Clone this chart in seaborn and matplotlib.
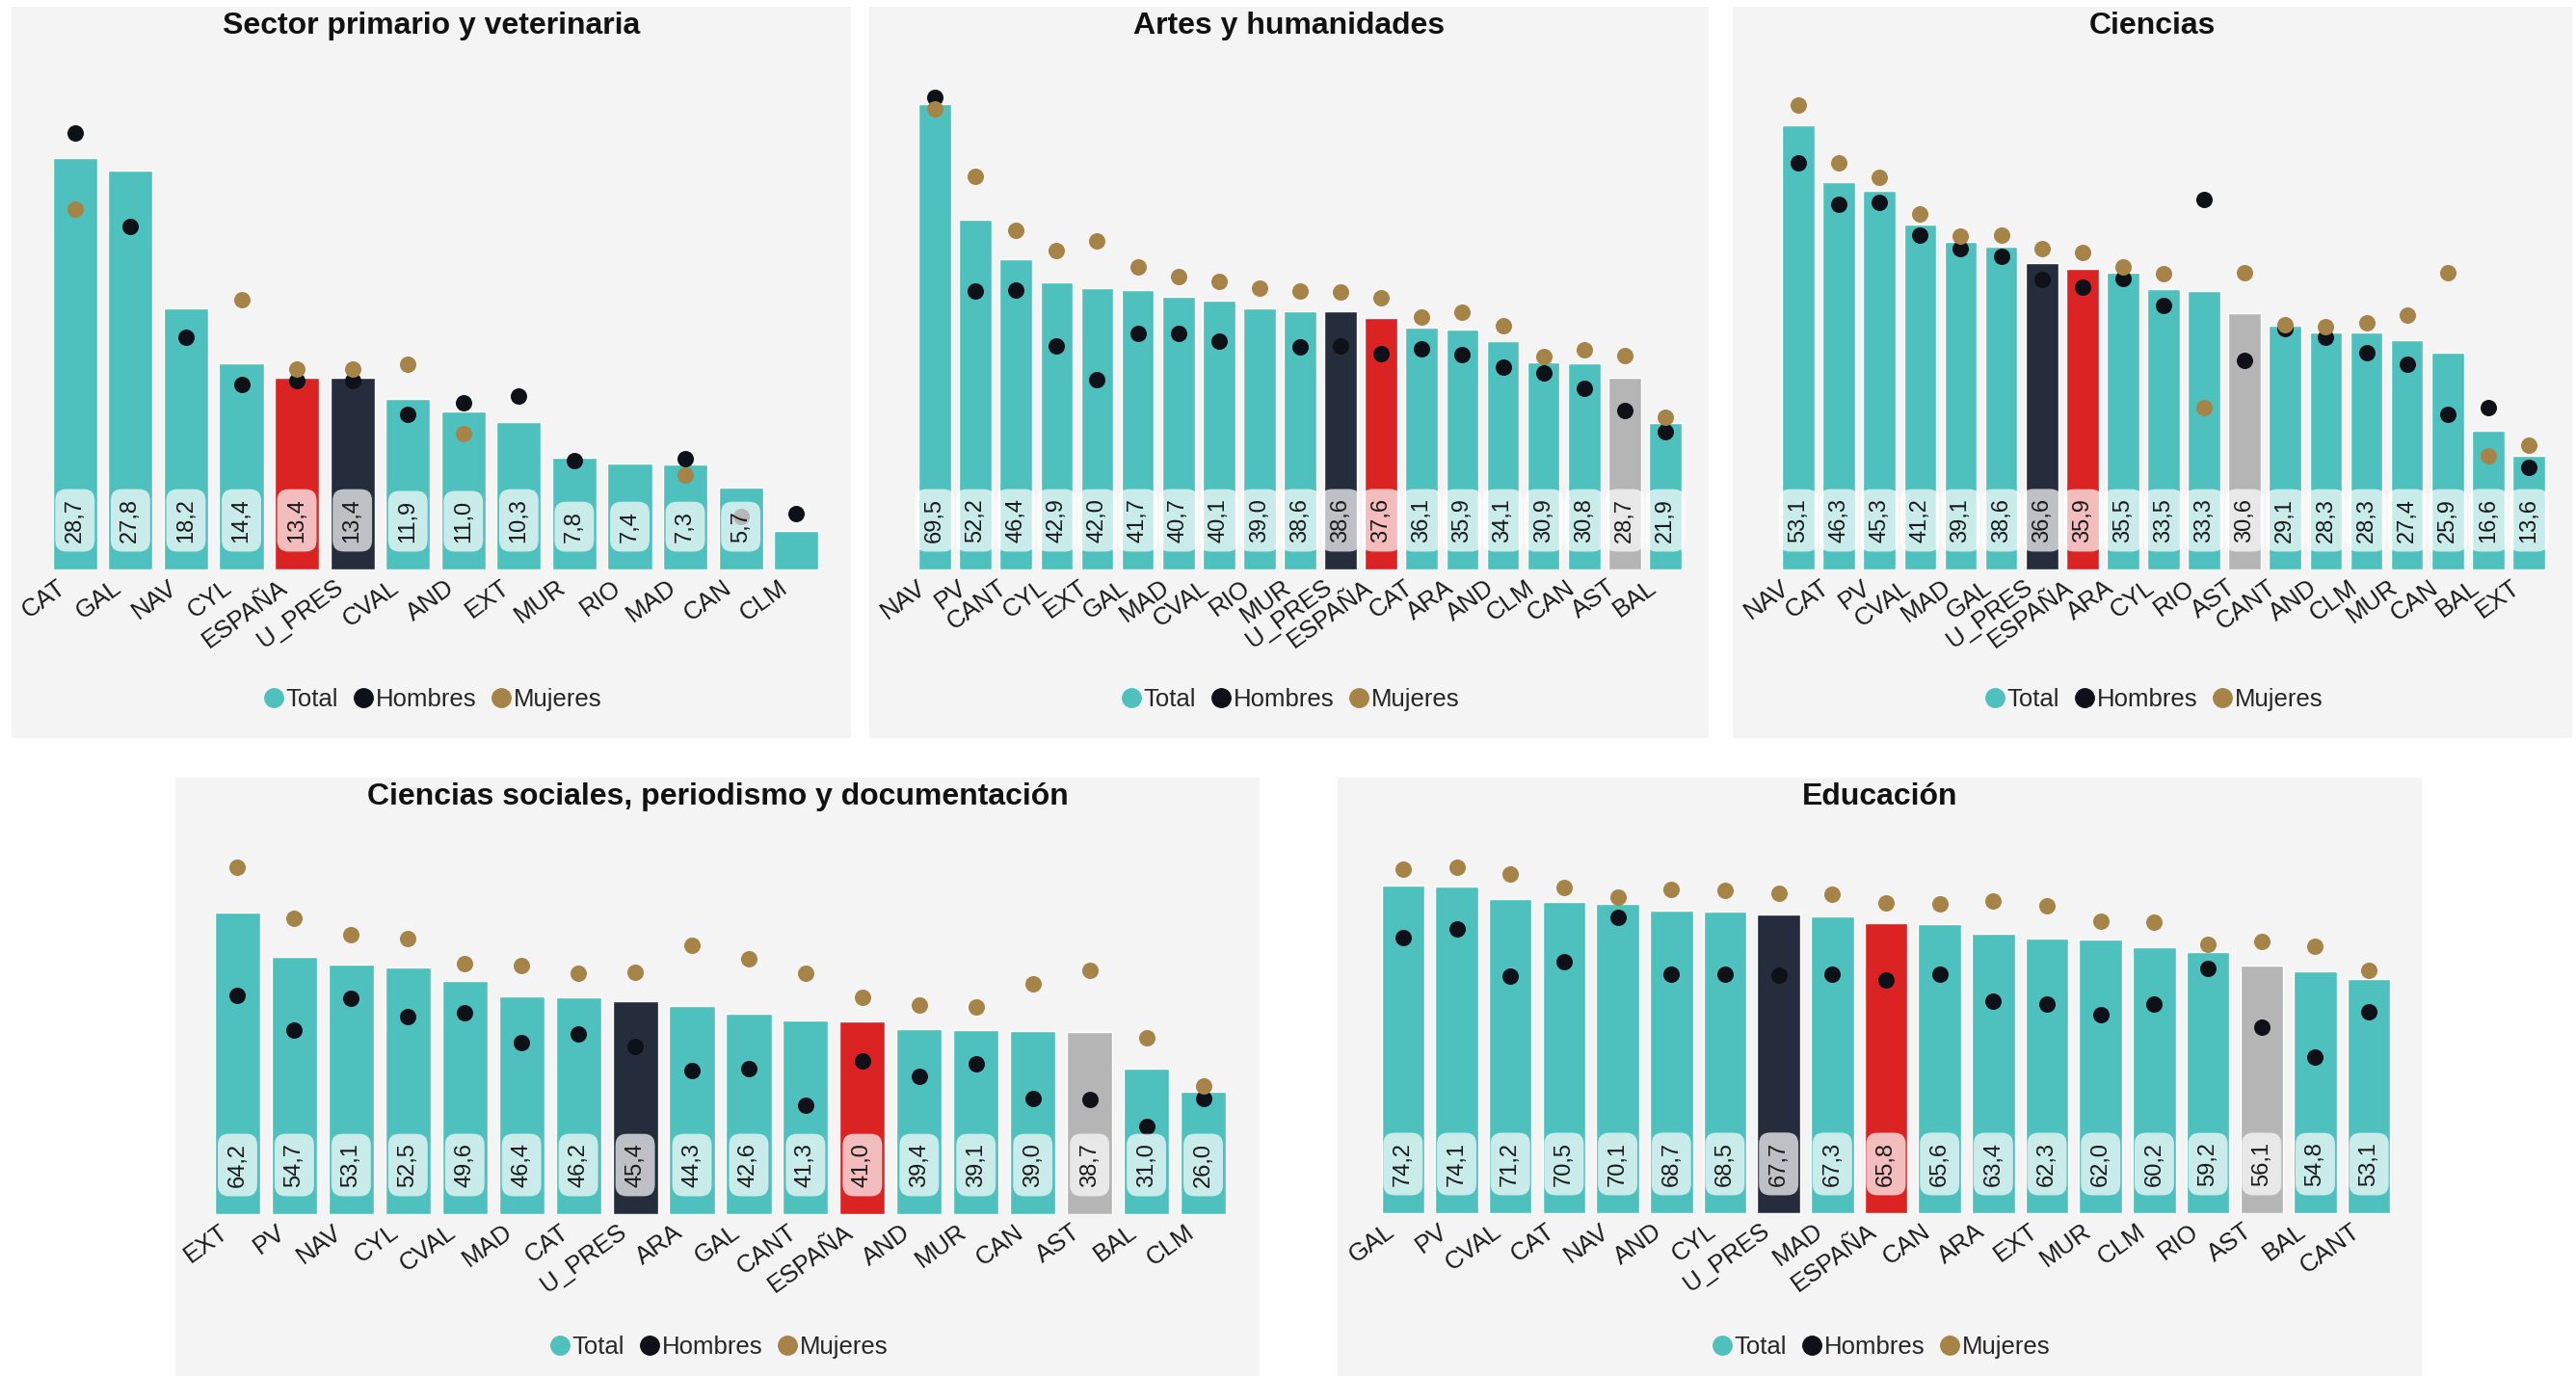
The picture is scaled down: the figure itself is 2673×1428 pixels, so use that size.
import numpy as np
import pandas as pd
import matplotlib
matplotlib.use("Agg")
import matplotlib.pyplot as plt
from matplotlib.lines import Line2D
from matplotlib.patches import Rectangle
import seaborn as sns

nan = np.nan

# ---------------- data ----------------
titles = ["Sector primario y veterinaria", "Artes y humanidades", "Ciencias",
          "Ciencias sociales, periodismo y documentación", "Educación"]

cats_1 = ["CAT", "GAL", "NAV", "CYL", "ESPAÑA", "U_PRES", "CVAL", "AND", "EXT", "MUR", "RIO", "MAD", "CAN", "CLM"]
total_1 = [28.7, 27.8, 18.2, 14.4, 13.4, 13.4, 11.9, 11.0, 10.3, 7.8, 7.4, 7.3, 5.7, 2.7]
hombres_1 = [30.4, 23.9, 16.2, 12.9, 13.2, 13.2, 10.8, 11.6, 12.1, 7.6, nan, 7.7, 3.7, 3.9]
mujeres_1 = [25.1, nan, nan, 18.8, 14.0, 14.0, 14.3, 9.5, nan, nan, nan, 6.6, nan, nan]

cats_2 = ["NAV", "PV", "CANT", "CYL", "EXT", "GAL", "MAD", "CVAL", "RIO", "MUR", "U_PRES", "ESPAÑA", "CAT", "ARA", "AND", "CLM", "CAN", "AST", "BAL"]
total_2 = [69.5, 52.2, 46.4, 42.9, 42.0, 41.7, 40.7, 40.1, 39.0, 38.6, 38.6, 37.6, 36.1, 35.9, 34.1, 30.9, 30.8, 28.7, 21.9]
hombres_2 = [70.6, 41.6, 41.8, 33.4, 28.4, 35.2, 35.3, 34.1, nan, 33.3, 33.4, 32.3, 33.0, 32.1, 30.3, 29.4, 27.0, 23.8, 20.6]
mujeres_2 = [68.8, 58.7, 50.7, 47.7, 49.1, 45.2, 43.8, 43.0, 42.0, 41.6, 41.4, 40.6, 37.7, 38.4, 36.4, 31.8, 32.8, 32.0, 22.8]

cats_3 = ["NAV", "CAT", "PV", "CVAL", "MAD", "GAL", "U_PRES", "ESPAÑA", "ARA", "CYL", "RIO", "AST", "CANT", "AND", "CLM", "MUR", "CAN", "BAL", "EXT"]
total_3 = [53.1, 46.3, 45.3, 41.2, 39.1, 38.6, 36.6, 35.9, 35.5, 33.5, 33.3, 30.6, 29.1, 28.3, 28.3, 27.4, 25.9, 16.6, 13.6]
hombres_3 = [48.6, 43.7, 43.9, 40.0, 38.3, 37.4, 34.7, 33.8, 34.8, 31.5, 44.2, 25.0, 28.8, 27.7, 25.9, 24.5, 18.5, 19.3, 12.2]
mujeres_3 = [55.5, 48.6, 46.9, 42.5, 39.8, 40.0, 38.3, 37.9, 36.2, 35.4, 19.3, 35.5, 29.2, 29.0, 29.5, 30.4, 35.5, 13.6, 14.9]

cats_4 = ["EXT", "PV", "NAV", "CYL", "CVAL", "MAD", "CAT", "U_PRES", "ARA", "GAL", "CANT", "ESPAÑA", "AND", "MUR", "CAN", "AST", "BAL", "CLM"]
total_4 = [64.2, 54.7, 53.1, 52.5, 49.6, 46.4, 46.2, 45.4, 44.3, 42.6, 41.3, 41.0, 39.4, 39.1, 39.0, 38.7, 31.0, 26.0]
hombres_4 = [46.5, 39.2, 46.0, 42.1, 42.8, 36.5, 38.3, 35.7, 30.5, 30.9, 23.1, 32.6, 29.3, 32.0, 24.6, 24.5, 18.6, 24.7]
mujeres_4 = [73.8, 63.0, 59.4, 58.6, 53.4, 52.9, 51.3, 51.5, 57.2, 54.3, 51.3, 46.1, 44.6, 44.2, 49.0, 51.8, 37.6, 27.2]

cats_5 = ["GAL", "PV", "CVAL", "CAT", "NAV", "AND", "CYL", "U_PRES", "MAD", "ESPAÑA", "CAN", "ARA", "EXT", "MUR", "CLM", "RIO", "AST", "BAL", "CANT"]
total_5 = [74.2, 74.1, 71.2, 70.5, 70.1, 68.7, 68.5, 67.7, 67.3, 65.8, 65.6, 63.4, 62.3, 62.0, 60.2, 59.2, 56.1, 54.8, 53.1]
hombres_5 = [62.4, 64.5, 53.8, 57.0, 67.1, 54.2, 54.1, 54.0, 54.1, 52.8, 54.2, 48.0, 47.5, 45.0, 47.4, 55.5, 42.1, 35.3, 45.7]
mujeres_5 = [77.9, 78.5, 77.0, 73.9, 71.6, 73.5, 73.2, 72.5, 72.3, 70.3, 70.2, 70.9, 69.8, 66.3, 65.9, 60.9, 61.7, 60.5, 55.1]

ymax_list = [35, 75, 60, 80, 85]
legend_labels = ["Total", "Hombres", "Mujeres"]

# ---------------- style ----------------
C_TEAL = "#4ec1be"
C_RED = "#dc2324"
C_NAVY = "#252d3c"
C_GREY = "#b5b5b5"
C_MEN = "#0e1118"
C_WOMEN = "#a68347"
PANEL_BG = "#f4f4f4"
special = {"ESPAÑA": C_RED, "U_PRES": C_NAVY, "AST": C_GREY}

sns.set_theme(style="white")
plt.rcParams["font.family"] = ["Liberation Sans", "DejaVu Sans"]

W, H = 2673, 1428
fig = plt.figure(figsize=(W / 100, H / 100), dpi=100)
fig.patch.set_facecolor("white")

panels = [  # panel box (x0, x1, y0, y1), axes box (x0, x1, ytop, ybottom)
    ((12, 883, 7, 766), (49, 855, 70, 591)),
    ((902, 1773, 7, 766), (949, 1749, 70, 591)),
    ((1798, 2669, 7, 766), (1845, 2645, 70, 591)),
    ((182, 1307, 807, 1428), (217, 1278, 870, 1260)),
    ((1388, 2513, 807, 1428), (1428, 2486, 870, 1259)),
]
datasets = [
    (cats_1, total_1, hombres_1, mujeres_1),
    (cats_2, total_2, hombres_2, mujeres_2),
    (cats_3, total_3, hombres_3, mujeres_3),
    (cats_4, total_4, hombres_4, mujeres_4),
    (cats_5, total_5, hombres_5, mujeres_5),
]

for k, ((pb, ab), (cats, tot, hom, muj)) in enumerate(zip(panels, datasets)):
    px0, px1, py0, py1 = pb
    fig.patches.append(Rectangle((px0 / W, 1 - py1 / H), (px1 - px0) / W, (py1 - py0) / H,
                                 transform=fig.transFigure, facecolor=PANEL_BG,
                                 edgecolor="none", zorder=-10))
    ax0, ax1, at, abot = ab
    ax = fig.add_axes([ax0 / W, 1 - abot / H, (ax1 - ax0) / W, (abot - at) / H])
    ax.set_zorder(1)
    ax.patch.set_alpha(0)
    n = len(cats)
    df = pd.DataFrame({"cat": cats, "total": tot, "hombres": hom, "mujeres": muj})
    pal = {c: special.get(c, C_TEAL) for c in cats}
    sns.barplot(data=df, x="cat", y="total", hue="cat", palette=pal, order=cats,
                hue_order=cats, legend=False, width=0.8, saturation=1, ax=ax, zorder=2)
    xs = np.arange(n)
    sns.scatterplot(x=xs, y=df["hombres"], color=C_MEN, s=150, linewidth=0, ax=ax, zorder=3)
    sns.scatterplot(x=xs, y=df["mujeres"], color=C_WOMEN, s=150, linewidth=0, ax=ax, zorder=4)
    ymax = ymax_list[k]
    ax.set_ylim(0, ymax)
    ax.set_xlim(-0.5, n - 0.5)
    for i, v in enumerate(tot):
        if v / ymax < 0.12:
            continue
        ax.annotate(f"{v:.1f}".replace(".", ","), xy=(i, 0), xytext=(0, 28),
                    textcoords="offset pixels", rotation=90, ha="center", va="bottom",
                    fontsize=17, color="#1a1a1a", zorder=6,
                    bbox=dict(boxstyle="round,pad=0.4,rounding_size=0.5",
                              fc=(1, 1, 1, 0.7), ec="none"))
    # category labels (rotated, anchored at their right end just left of the bar centre)
    ax.set_xticks(xs)
    ax.set_xticklabels([])
    ax.tick_params(axis="x", length=0)
    for i, c in enumerate(cats):
        ax.annotate(c, xy=(i, 0), xycoords=ax.get_xaxis_transform(), xytext=(-12, -16),
                    textcoords="offset pixels", rotation=36, rotation_mode="anchor",
                    ha="right", va="center", fontsize=18.5, color="#1a1a1a",
                    annotation_clip=False)
    ax.set_yticks([])
    ax.set_xlabel("")
    ax.set_ylabel("")
    for s in ax.spines.values():
        s.set_visible(False)
    cx = (px0 + px1) / 2 / W
    ty = 27 if k < 3 else 827
    fig.text(cx, 1 - ty / H, titles[k], ha="center", va="center", fontsize=23,
             fontweight="bold", color="#111111")
    ly = 726 if k < 3 else 1398
    handles = [Line2D([], [], marker="o", linestyle="", markersize=14, color=c)
               for c in (C_TEAL, C_MEN, C_WOMEN)]
    fig.legend(handles, legend_labels, loc="center", bbox_to_anchor=(cx, 1 - ly / H),
               ncol=3, frameon=False, fontsize=18.5, handletextpad=0.0,
               columnspacing=0.5, handlelength=1.0, borderaxespad=0)

fig.savefig("out.png", dpi=100, facecolor="white")
